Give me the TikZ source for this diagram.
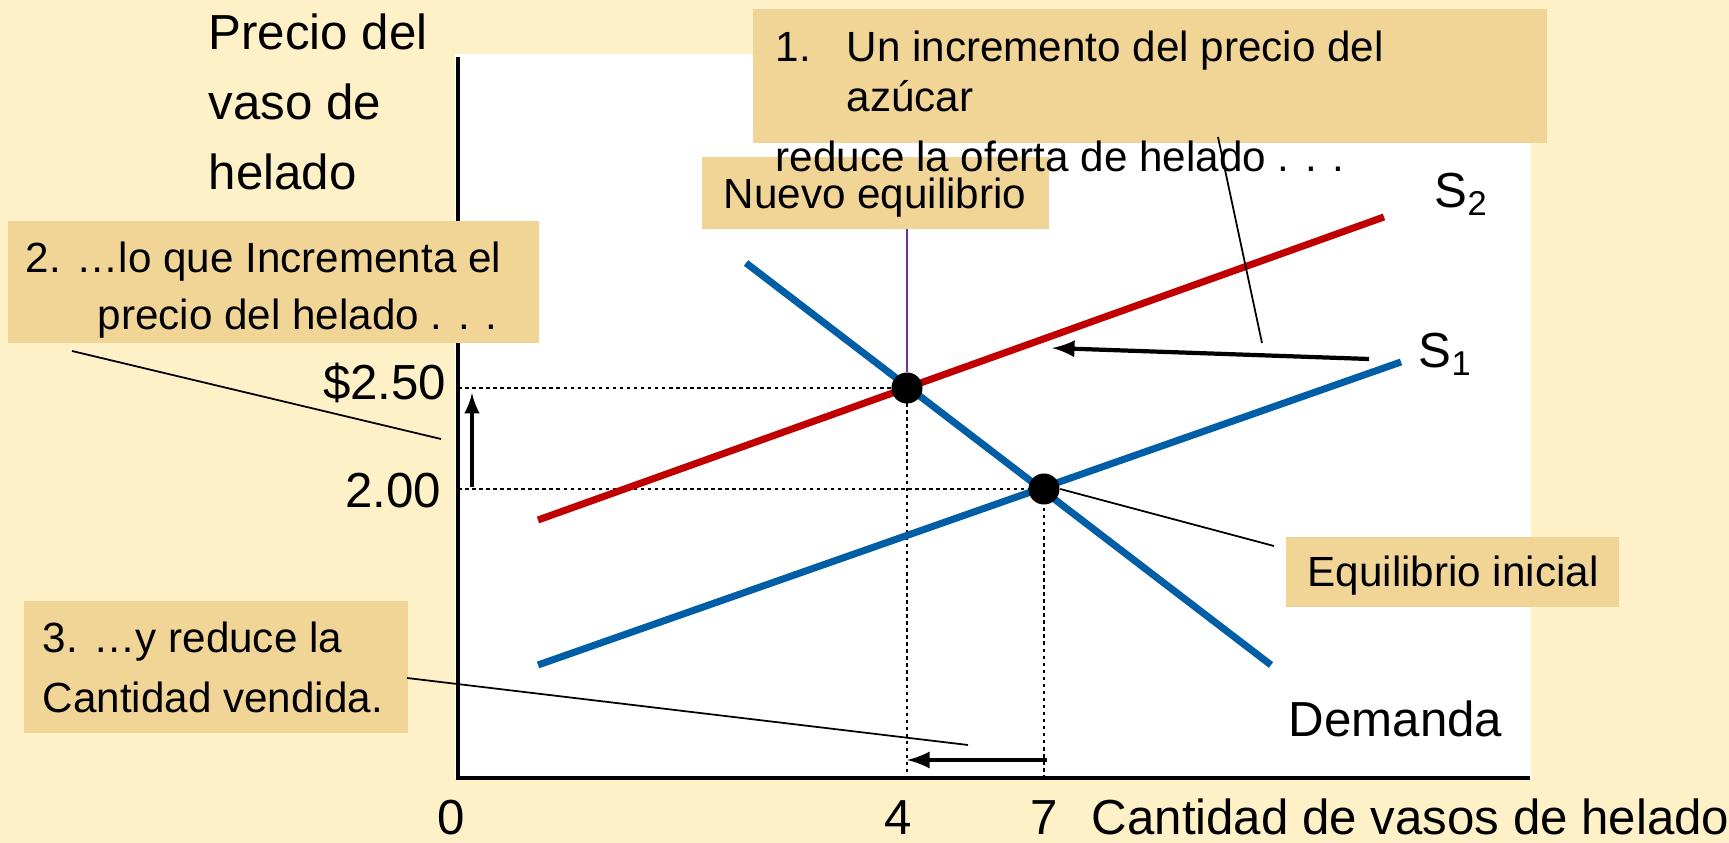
\documentclass[tikz,border=0pt]{standalone}
\usepackage{fontspec}
\setmainfont{Liberation Sans}
\definecolor{fondo}{RGB}{254,240,199}
\definecolor{cajacol}{RGB}{241,213,151}
\definecolor{rojo}{RGB}{192,0,0}
\definecolor{azul}{RGB}{0,94,166}
\definecolor{morado}{RGB}{112,48,160}
\tikzset{
  txt/.style={inner sep=0pt, anchor=base west, font=\fontsize{14}{16}\selectfont},
  ctxt/.style={inner sep=0pt, anchor=base west, font=\fontsize{12}{14}\selectfont},
  caja/.style={fill=cajacol, inner sep=0pt, anchor=north west},
  curva/.style={line width=2pt},
  guia/.style={line width=0.5pt},
  punteada/.style={line width=0.5pt, dash pattern=on 1pt off 1pt},
  punto/.style={circle, fill=black, inner sep=0pt, minimum size=0.31cm}
}
\begin{document}
\begin{tikzpicture}[x=0.01cm, y=-0.01cm, >=latex]
    \useasboundingbox (0,0) rectangle (1729,843);
    \fill[fondo] (0,0) rectangle (1729,843);
    \fill[white] (455,54) rectangle (1531,778);
    \coordinate (o) at (458,778);
    \coordinate (d1) at (746,263);
    \coordinate (d2) at (1271,665);
    \coordinate (sa1) at (538,665);
    \coordinate (sa2) at (1401,362);
    \coordinate (sb1) at (538,520);
    \coordinate (sb2) at (1384,217);
    \coordinate (e1) at (1044,489);
    \coordinate (e2) at (907,388);
    % punteadas
    \draw[punteada] (o |- e2) -- (e2) -- (e2 |- o);
    \draw[punteada] (o |- e1) -- (e1) -- (e1 |- o);
    % curvas
    \draw[curva, azul] (d1) -- (d2); % demanda
    \draw[curva, azul] (sa1) -- (sa2); % S1
    \draw[curva, rojo] (sb1) -- (sb2); % S2
    \node[punto] (pe1) at (e1) {};
    \node[punto] (pe2) at (e2) {};
    % ejes
    \draw[line width=1.4pt] (458,57) -- (o) -- (1530,778);
    % cajas
    \node[caja, minimum width=3.47cm, minimum height=0.72cm] (bn) at (701,156) {};
    \node[caja, minimum width=7.94cm, minimum height=1.34cm] (b1) at (752,8) {};
    \node[caja, minimum width=5.31cm, minimum height=1.22cm] (b2) at (7,220) {};
    \node[caja, minimum width=3.84cm, minimum height=1.32cm] (b3) at (23,600) {};
    \node[caja, minimum width=3.33cm, minimum height=0.70cm] (bi) at (1285,536) {};
    \node[ctxt] (n1) at (775,62) {1.};
    \node[ctxt] (t1a) at (846,62) {Un incremento del precio del};
    \node[ctxt] (t1b) at (846,112) {azúcar};
    \node[ctxt] (tn) at (723,209) {Nuevo equilibrio};
    \node[ctxt] (t1c) at (775,172) {reduce la oferta de helado . . .};
    \node[ctxt] (t2a) at (25,273) {2. …lo que Incrementa el};
    \node[ctxt] (t2b) at (97,330) {precio del helado . . .};
    \node[ctxt] (t3a) at (42,653) {3. …y reduce la};
    \node[ctxt] (t3b) at (42,713) {Cantidad vendida.};
    \node[ctxt] (ti) at (1307,587) {Equilibrio inicial};
    % rotulos
    \node[txt] (ey1) at (208,50) {Precio del};
    \node[txt] (ey2) at (208,120) {vaso de};
    \node[txt] (ey3) at (208,190) {helado};
    \node[txt, anchor=base east] (p250) at (447,400) {\$2.50};
    \node[txt, anchor=base east] (p200) at (442,508) {2.00};
    \node[txt, anchor=base] (q0) at (451,835) {0};
    \node[txt, anchor=base] (q4) at (898,835) {4};
    \node[txt, anchor=base] (q7) at (1044,835) {7};
    \node[txt] (ex) at (1091,835) {Cantidad de vasos de helado};
    \node[txt] (dem) at (1288,737) {Demanda};
    \node[txt] (s2) at (1434,208) {S\textsubscript{2}};
    \node[txt] (s1) at (1418,368) {S\textsubscript{1}};
    % guias
    \coordinate (g1a) at (1218,137);
    \coordinate (g1b) at (1262,343);
    \coordinate (g2a) at (72,351);
    \coordinate (g2b) at (441,439);
    \coordinate (g3a) at (407,678);
    \coordinate (g3b) at (968,745);
    \coordinate (gi) at (1274,546);
    \draw[guia] (g1a) -- (g1b);
    \draw[guia] (g2a) -- (g2b);
    \draw[guia] (g3a) -- (g3b);
    \draw[guia] (pe1.east) -- (gi);
    \draw[morado, guia] (bn.south -| pe2) -- (pe2);
    % flechas
    \coordinate (fa) at (1369,359);
    \coordinate (fb) at (1052,348);
    \coordinate (pa) at (472,487);
    \coordinate (pb) at (472,393);
    \coordinate (ca) at (1047,760);
    \coordinate (cb) at (907,760);
    \draw[->, line width=1.2pt] (fa) -- (fb); % desplazamiento
    \draw[->, line width=1pt] (pa) -- (pb); % precio
    \draw[->, line width=1.2pt] (ca) -- (cb); % cantidad
\end{tikzpicture}
\end{document}
